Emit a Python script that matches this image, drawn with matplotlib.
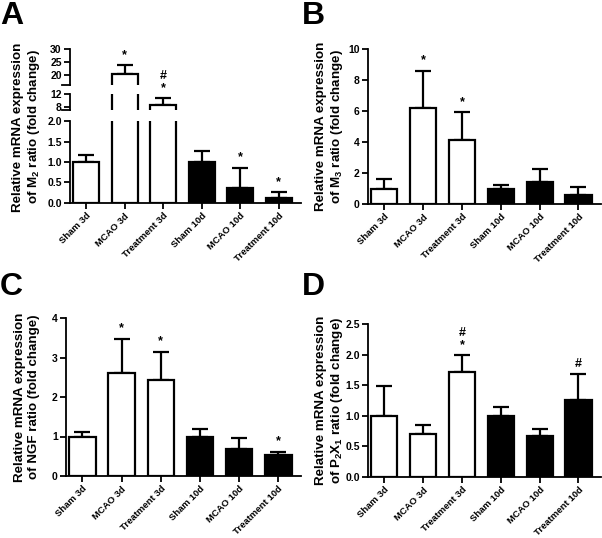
import numpy as np
import matplotlib
matplotlib.use("Agg")
import matplotlib.pyplot as plt

plt.rcParams['font.family'] = ['Liberation Sans', 'DejaVu Sans']
plt.rcParams['mathtext.fontset'] = 'custom'
plt.rcParams['mathtext.rm'] = 'Liberation Sans:bold'
plt.rcParams['mathtext.it'] = 'Liberation Sans:bold'
plt.rcParams['mathtext.bf'] = 'Liberation Sans:bold'
plt.rcParams['mathtext.default'] = 'rm'

groups = ['Sham 3d', 'MCAO 3d', 'Treatment 3d', 'Sham 10d', 'MCAO 10d', 'Treatment 10d']
colors = ['white', 'white', 'white', 'black', 'black', 'black']

# panel A (M2)
m2_mean = [1.0, 20.2, 8.5, 1.0, 0.37, 0.13]
m2_top = [1.16, 23.6, 10.6, 1.28, 0.86, 0.27]
m2_marks = ['', '*', '#\n*', '', '*', '*']

# panel B (M3)
m3_mean = [1.0, 6.2, 4.1, 1.0, 1.4, 0.6]
m3_top = [1.6, 8.6, 5.92, 1.25, 2.25, 1.1]
m3_marks = ['', '*', '*', '', '', '']

# panel C (NGF)
ngf_mean = [1.0, 2.6, 2.42, 1.0, 0.68, 0.53]
ngf_top = [1.12, 3.48, 3.15, 1.2, 0.96, 0.62]
ngf_marks = ['', '*', '*', '', '', '*']

# panel D (P2X1)
p2x1_mean = [1.0, 0.71, 1.71, 1.0, 0.67, 1.26]
p2x1_top = [1.48, 0.85, 1.99, 1.15, 0.78, 1.68]
p2x1_marks = ['', '', '#\n*', '', '', '#']

W, H = 602, 538
fig = plt.figure(figsize=(W / 100, H / 100), dpi=100)

x = np.arange(len(groups))
BW = 0.675
TICKFS = 7.5
XTICKFS = 6.8


def px_axes(left, right, top, bottom):
    ax = fig.add_axes([left / W, 1 - bottom / H, (right - left) / W, (bottom - top) / H])
    ax.patch.set_visible(False)
    return ax


def put_marks(ax, top, marks, lo, hi):
    for xi, t, m in zip(x, top, marks):
        if m and lo < t < hi:
            ax.annotate(m, (xi, t), xytext=(0, 3), textcoords='offset points',
                        ha='center', va='bottom', fontsize=9, fontweight='bold',
                        linespacing=1.0, annotation_clip=False, zorder=5)


def draw_bars(ax, mean, top, ylim, ticks, ticklabels):
    ax.bar(x, mean, width=BW, color=colors, edgecolor='black', linewidth=1.6, zorder=2)
    err = np.array(top) - np.array(mean)
    ax.errorbar(x, mean, yerr=[np.zeros(len(err)), err], fmt='none', ecolor='black',
                elinewidth=1.6, capsize=6, capthick=1.6, zorder=1)
    ax.set_xlim(-0.42, 5.58)
    ax.set_ylim(*ylim)
    ax.set_yticks(ticks)
    ax.set_yticklabels(ticklabels, fontweight='bold', fontsize=TICKFS)
    for s in ['top', 'right']:
        ax.spines[s].set_visible(False)
    ax.spines['left'].set_linewidth(1.3)
    ax.spines['bottom'].set_linewidth(1.3)
    ax.tick_params(axis='y', width=1.3, length=4, pad=2)


def finish_x(ax):
    ax.set_xticks(x)
    ax.set_xticklabels(groups, rotation=45, ha='right', rotation_mode='anchor',
                       fontsize=XTICKFS, fontweight='bold')
    ax.tick_params(axis='x', width=1.3, length=4, pad=2)


def ylabel(ax, text, xpos):
    pos = ax.get_position()
    fig.text(xpos / W, pos.y0 + pos.height / 2, text, rotation=90, ha='center',
             va='center', fontsize=9.6, fontweight='bold', linespacing=1.2)


# ---- panel A: broken axis ----
a_bot = px_axes(70, 301, 121, 203)
a_mid = px_axes(70, 301, 94, 110)
a_top = px_axes(70, 301, 49, 85)

draw_bars(a_bot, m2_mean, m2_top, (0, 2), [0, 0.5, 1.0, 1.5, 2.0],
          ['0.0', '0.5', '1.0', '1.5', '2.0'])
put_marks(a_bot, m2_top, m2_marks, 0, 2)
finish_x(a_bot)

draw_bars(a_mid, m2_mean, m2_top, (7, 12), [8, 12], ['8', '12'])
a_mid.spines['bottom'].set_visible(False)
a_mid.set_xticks([])
put_marks(a_mid, m2_top, m2_marks, 7, 12)

draw_bars(a_top, m2_mean, m2_top, (16, 30), [20, 25, 30], ['20', '25', '30'])
a_top.spines['bottom'].set_visible(False)
a_top.set_xticks([])
put_marks(a_top, m2_top, m2_marks, 16, 30)

# small break marks on the axis
for ax in (a_mid, a_top):
    ax.plot([-0.035, 0.0], [0, 0], transform=ax.transAxes, color='black',
            linewidth=1.3, clip_on=False)

fig.text(27 / W, 1 - 127 / H, 'Relative mRNA expression\nof M$_2$ ratio (fold change)',
         rotation=90, ha='center', va='center', fontsize=9.6, fontweight='bold',
         linespacing=1.2)
fig.text(0.0 / W, 1 - 1 / H, 'A', fontsize=23, fontweight='bold', ha='left', va='top')

# ---- panel B ----
b = px_axes(368, 601, 49, 204)
draw_bars(b, m3_mean, m3_top, (0, 10), [0, 2, 4, 6, 8, 10],
          ['0', '2', '4', '6', '8', '10'])
put_marks(b, m3_top, m3_marks, 0, 10)
finish_x(b)
ylabel(b, 'Relative mRNA expression\nof M$_3$ ratio (fold change)', 330)
fig.text(302 / W, 1 - 1 / H, 'B', fontsize=23, fontweight='bold', ha='left', va='top')

# ---- panel C ----
c = px_axes(66, 301, 318, 476)
draw_bars(c, ngf_mean, ngf_top, (0, 4), [0, 1, 2, 3, 4], ['0', '1', '2', '3', '4'])
put_marks(c, ngf_top, ngf_marks, 0, 4)
finish_x(c)
ylabel(c, 'Relative mRNA expression\nof NGF ratio (fold change)', 27)
fig.text(0.0 / W, 1 - 272 / H, 'C', fontsize=23, fontweight='bold', ha='left', va='top')

# ---- panel D ----
d = px_axes(368, 601, 324, 477)
draw_bars(d, p2x1_mean, p2x1_top, (0, 2.5), [0, 0.5, 1.0, 1.5, 2.0, 2.5],
          ['0.0', '0.5', '1.0', '1.5', '2.0', '2.5'])
put_marks(d, p2x1_top, p2x1_marks, 0, 2.5)
finish_x(d)
ylabel(d, 'Relative mRNA expression\nof P$_2$X$_1$ ratio (fold change)', 330)
fig.text(302 / W, 1 - 272 / H, 'D', fontsize=23, fontweight='bold', ha='left', va='top')

fig.savefig('out.png', dpi=100, facecolor='white')
